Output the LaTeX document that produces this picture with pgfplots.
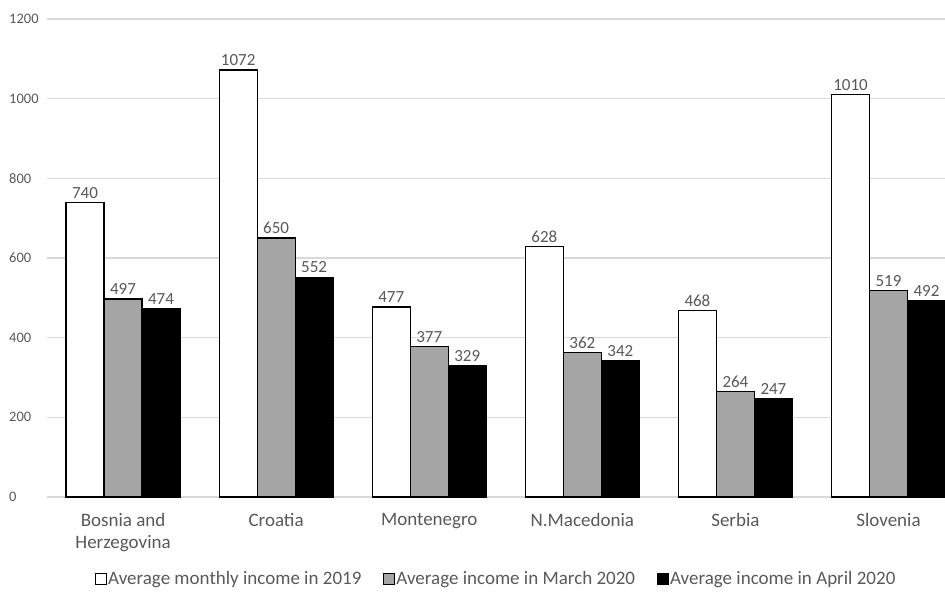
\documentclass[border=0pt]{standalone}
\usepackage{fontspec}
\setmainfont{Carlito}
\usepackage{pgfplots}
\pgfplotsset{compat=1.18}
\definecolor{txt}{HTML}{595959}
\definecolor{gridc}{HTML}{D9D9D9}
\definecolor{midgray}{HTML}{A5A5A5}

\begin{document}
\begin{tikzpicture}
\path[use as bounding box] (0,0) rectangle (945pt,600pt);
\begin{axis}[
  at={(46.5pt,103pt)}, anchor=south west,
  scale only axis, width=898.5pt, height=478pt,
  ybar=0pt, bar width=38pt,
  xmin=-0.5, xmax=5.369, ymin=0, ymax=1200,
  ytick={0,200,...,1200},
  xtick={0,...,5},
  xticklabels={{Bosnia and\\Herzegovina},Croatia,Montenegro,N.Macedonia,Serbia,Slovenia},
  xticklabel style={align=center, font=\fontsize{19}{22}\selectfont, text=txt,
    inner sep=0pt, anchor=north, yshift=-16pt},
  yticklabel style={font=\fontsize{14.5}{16}\selectfont, text=txt,
    inner sep=0pt, anchor=west, xshift=-37.5pt},
  /pgf/number format/assume math mode=true,
  /pgf/number format/1000 sep={},
  axis line style={draw=none},
  major tick length=0pt,
  ymajorgrids,
  grid style={color=gridc, line width=1.2pt},
  nodes near coords,
  every node near coord/.append style={font=\fontsize{17}{19}\selectfont,
    text=txt, inner sep=3.5pt, anchor=south,
    /pgf/number format/1000 sep={}},
  legend columns=3,
  legend style={at={(axis description cs:0.5,0)}, anchor=north, yshift=-73pt,
    draw=none, fill=none, font=\fontsize{19}{22}\selectfont, text=txt,
    inner sep=0pt,
    nodes={inner sep=1.5pt},
    /tikz/every even column/.append style={column sep=20pt}},
  legend image code/.code={\draw[#1,draw=black,line width=1pt] (0pt,-5.5pt) rectangle (11pt,5.5pt);},
  every axis plot/.append style={draw=black, line width=1.2pt},
]
\addplot[fill=white] coordinates {(0,740) (1,1072) (2,477) (3,628) (4,468) (5,1010)};
\addplot[fill=midgray] coordinates {(0,497) (1,650) (2,377) (3,362) (4,264) (5,519)};
\addplot[fill=black] coordinates {(0,474) (1,552) (2,329) (3,342) (4,247) (5,492)};
\legend{Average monthly income in 2019,Average income in March 2020,Average income in April 2020}
\end{axis}
\end{tikzpicture}
\end{document}
